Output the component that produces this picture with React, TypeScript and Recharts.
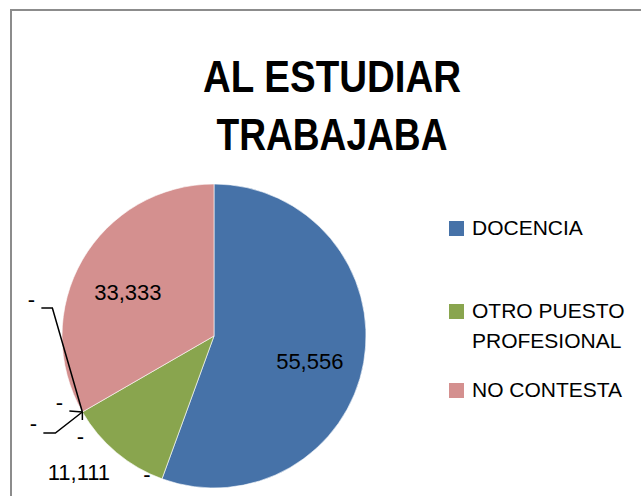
import React from 'react'
import { PieChart, Pie, Cell, Legend } from 'recharts'

// categorías y valores (%), las de valor cero solo muestran "-"
const categories = ['DOCENCIA', 'SIN DATO 1', 'OTRO PUESTO PROFESIONAL', 'SIN DATO 2', 'SIN DATO 3', 'SIN DATO 4', 'SIN DATO 5', 'NO CONTESTA']
const values = [55.556, 0, 11.111, 0, 0, 0, 0, 33.333]
const colors = ['#4672A8', '#4672A8', '#89A54E', '#89A54E', '#89A54E', '#89A54E', '#89A54E', '#D4908F']
const titleLines = ['AL ESTUDIAR', 'TRABAJABA']

const data = categories.map((name, i) => ({ name, value: values[i] }))

// posición de cada etiqueta: r = fracción del radio, dx/dy desplazamiento, leader = puntos relativos al borde
const labelLayout = [
  { r: 0.64, dx: 0, dy: 9 },
  { r: 1, dx: -15, dy: -4 },
  { r: 1.26, dx: -12, dy: -10 },
  { r: 1, dx: -51, dy: -112, leader: [[0, 0], [-30, -104], [-41, -104]] },
  { r: 1, dx: -23, dy: -9, leader: [[0, 0], [-13, -1]] },
  { r: 1, dx: -49, dy: 12, leader: [[0, 0], [-27, 21], [-39, 21]] },
  { r: 1, dx: -2, dy: 25, leader: [[0, 0], [0, 8]] },
  { r: 0.7, dx: 6, dy: 10 },
]

const RAD = Math.PI / 180
const FONT = '"Liberation Sans", Arial, sans-serif'

function formatValue(v: number) {
  return v === 0 ? '-' : v.toFixed(3).replace('.', ',')
}

function renderLabel(props: any) {
  const { cx, cy, midAngle, outerRadius, index, value } = props
  const cfg = labelLayout[index]
  const cos = Math.cos(-midAngle * RAD)
  const sin = Math.sin(-midAngle * RAD)
  const x = cx + outerRadius * cfg.r * cos + cfg.dx
  const y = cy + outerRadius * cfg.r * sin + cfg.dy
  const bx = cx + outerRadius * cos
  const by = cy + outerRadius * sin
  return (
    <g key={`lbl-${index}`}>
      {cfg.leader && (
        <polyline
          points={cfg.leader.map(([px, py]) => `${bx + px},${by + py}`).join(' ')}
          fill="none"
          stroke="#000"
          strokeWidth={1.5}
        />
      )}
      <text x={x} y={y} textAnchor="middle" dominantBaseline="central" fill="#000" fontSize={22} fontFamily={FONT}>
        {formatValue(value)}
      </text>
    </g>
  )
}

// leyenda: solo categorías con valor
const legendRows = [
  { top: 0, lines: ['DOCENCIA'] },
  { top: 83, lines: ['OTRO PUESTO', 'PROFESIONAL'] },
  { top: 162, lines: ['NO CONTESTA'] },
]

function renderLegend() {
  const shown = data.map((d, i) => ({ ...d, color: colors[i] })).filter(d => d.value > 0)
  return (
    <div style={{ position: 'relative', width: 190, height: 200, fontFamily: FONT, fontSize: 21, lineHeight: '30px' }}>
      {shown.map((d, i) => (
        <div key={d.name} style={{ position: 'absolute', left: 0, top: legendRows[i].top, display: 'flex' }}>
          <div style={{ width: 15, height: 15, marginTop: 8, background: d.color, marginRight: 8 }} />
          <div>
            {legendRows[i].lines.map(l => (
              <div key={l} style={{ whiteSpace: 'nowrap' }}>{l}</div>
            ))}
          </div>
        </div>
      ))}
    </div>
  )
}

export default function App() {
  return (
    <div style={{ position: 'absolute', left: 0, top: 0, width: 641, height: 496, overflow: 'hidden', background: '#fff' }}>
      <div style={{ position: 'absolute', left: 10, top: 9, width: 660, height: 520, border: '2px solid #8c8c8c', boxSizing: 'border-box' }} />
      <svg width={641} height={180} style={{ position: 'absolute', left: 0, top: 0 }}>
        {titleLines.map((t, i) => (
          <text
            key={t}
            x={332}
            y={92 + i * 58}
            textAnchor="middle"
            fontSize={44}
            fontWeight="bold"
            fontFamily={FONT}
            textLength={i === 0 ? 258 : 231}
            lengthAdjust="spacingAndGlyphs"
          >
            {t}
          </text>
        ))}
      </svg>
      <div style={{ position: 'absolute', left: 0, top: 0 }}>
        <PieChart width={641} height={496}>
          <Pie
            data={data}
            dataKey="value"
            nameKey="name"
            cx={209}
            cy={331}
            outerRadius={152}
            startAngle={90}
            endAngle={-270}
            stroke="#ffffff"
            strokeWidth={0.6}
            label={renderLabel}
            labelLine={false}
            isAnimationActive={false}
          >
            {data.map((d, i) => (
              <Cell key={d.name} fill={colors[i]} />
            ))}
          </Pie>
          <Legend
            layout="vertical"
            align="right"
            verticalAlign="top"
            content={renderLegend}
            wrapperStyle={{ position: 'absolute', left: 449, top: 213, width: 190 }}
          />
        </PieChart>
      </div>
    </div>
  )
}
